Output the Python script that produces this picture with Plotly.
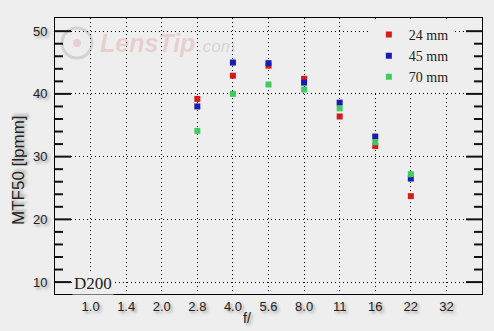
import plotly.graph_objects as go

f_labels = ["1.0", "1.4", "2.0", "2.8", "4.0", "5.6", "8.0", "11", "16", "22", "32"]
f_measured = ["2.8", "4.0", "5.6", "8.0", "11", "16", "22"]
mtf_24mm = [39.2, 42.9, 44.5, 42.4, 36.4, 31.7, 23.7]
mtf_45mm = [38.0, 45.0, 44.9, 41.8, 38.6, 33.2, 26.5]
mtf_70mm = [34.1, 40.0, 41.5, 40.7, 37.7, 32.3, 27.2]
series_names = ["24 mm", "45 mm", "70 mm"]
series_colors = ["#d41c1c", "#1a1ab4", "#3fcc5f"]
y_major = [10, 20, 30, 40, 50]
y_minor = [v for v in range(10, 51, 2) if v % 10 != 0]

xpos = [f_labels.index(f) for f in f_measured]

fig = go.Figure()
for name, vals, col in zip(series_names, [mtf_24mm, mtf_45mm, mtf_70mm], series_colors):
    fig.add_trace(go.Scatter(
        x=xpos, y=vals, mode="markers", name=name,
        marker=dict(symbol="square", size=6, color=col, line=dict(width=0)),
    ))

PW = 427.0
shapes = [
    dict(type="circle", xref="paper", yref="paper",
         x0=(62-55)/PW, x1=(92-55)/PW, y0=(294-58)/276, y1=(294-28)/276,
         line=dict(color="rgba(150,150,150,0.3)", width=3), layer="below"),
    dict(type="circle", xref="paper", yref="paper",
         x0=(73-55)/PW, x1=(81-55)/PW, y0=(294-47)/276, y1=(294-39)/276,
         line=dict(width=0), fillcolor="rgba(220,150,150,0.35)", layer="below"),
]
# inside tick marks on the left and right borders, placed at the axis values
for v in y_major + y_minor:
    L = (16 if v in y_major else 8) / PW
    for x0, x1 in [(0, L), (1 - L, 1)]:
        shapes.append(dict(type="line", xref="paper", yref="y", x0=x0, x1=x1, y0=v, y1=v,
                           line=dict(color="#111111", width=2), layer="above"))

shadow = "2px 2px 3px #999"
fig.update_layout(
    width=494, height=331,
    margin=dict(l=55, r=12, t=18, b=37),
    paper_bgcolor="#eeeeee", plot_bgcolor="#eeeeee",
    showlegend=True,
    legend=dict(
        x=0.735, y=0.997, xanchor="left", yanchor="top",
        bgcolor="#eeeeee", borderwidth=0,
        font=dict(family="Liberation Serif", size=14, color="#222"),
        itemwidth=30, tracegroupgap=0,
    ),
    xaxis=dict(
        range=[-1, 11], tickmode="array",
        tickvals=list(range(len(f_labels))), ticktext=f_labels,
        ticks="", showline=True, linecolor="black", linewidth=1, mirror=True,
        showgrid=True, gridcolor="black", gridwidth=1, griddash="1px,3px",
        zeroline=False,
        tickfont=dict(family="Liberation Sans", size=13, color="#222", shadow=shadow),
    ),
    yaxis=dict(
        range=[8.1, 52.1], tickmode="array", tickvals=y_major,
        ticks="", showline=True, linecolor="black", linewidth=1, mirror=True,
        showgrid=True, gridcolor="black", gridwidth=1, griddash="1px,3px",
        zeroline=False,
        tickfont=dict(family="Liberation Sans", size=13, color="#222", shadow=shadow),
        ticklabelstandoff=4,
    ),
    shapes=shapes,
    annotations=[
        dict(text="MTF50 [lpmm]", xref="paper", yref="paper", x=-55/PW + 18/PW, y=(294-170)/276,
             xanchor="center", yanchor="middle", textangle=-90, showarrow=False,
             font=dict(family="Liberation Sans", size=17, color="#222", shadow=shadow)),
        dict(text="f/", xref="paper", yref="paper", x=(247-55)/PW, y=-(318-294)/276,
             xanchor="center", yanchor="middle", showarrow=False,
             font=dict(family="Liberation Sans", size=14, color="#222", shadow=shadow)),
        dict(text="D200", xref="paper", yref="paper", x=(72-55)/PW, y=(294-283)/276,
             xanchor="left", yanchor="middle", showarrow=False, bgcolor="#eeeeee",
             font=dict(family="Liberation Serif", size=17, color="#222")),
        dict(text="<b><i>LensTip</i></b>", xref="paper", yref="paper", x=(98-55)/PW, y=(294-43)/276,
             xanchor="left", yanchor="middle", showarrow=False,
             font=dict(family="Liberation Sans", size=25, color="rgba(220,150,150,0.35)")),
        dict(text="<i>.com</i>", xref="paper", yref="paper", x=(196-55)/PW, y=(294-46)/276,
             xanchor="left", yanchor="middle", showarrow=False,
             font=dict(family="Liberation Sans", size=17, color="rgba(150,150,150,0.3)")),
    ],
)

fig.write_html("out.html")
